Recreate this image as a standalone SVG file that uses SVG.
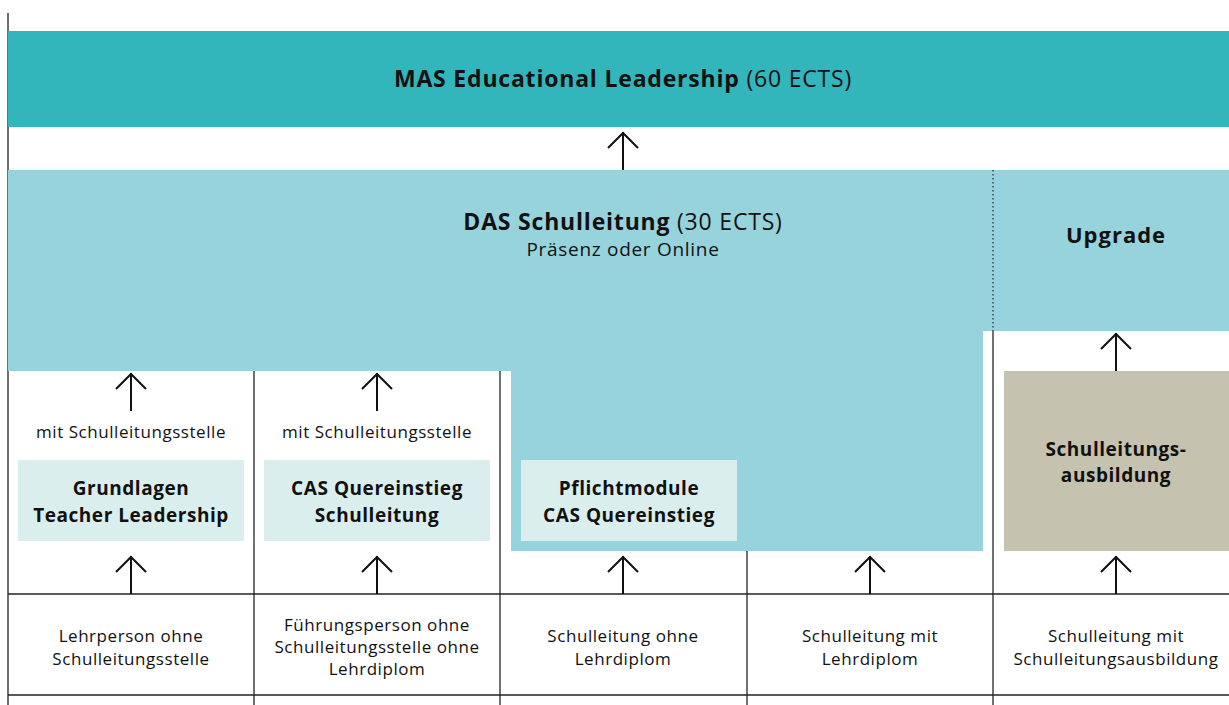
<svg xmlns="http://www.w3.org/2000/svg" width="1229" height="705" viewBox="0 0 1229 705">
<style>
text{font-family:"Open Sans","Noto Sans","DejaVu Sans",sans-serif;fill:#111;text-anchor:middle}
.sm{font-size:17px;letter-spacing:0.55px}
.bx{font-size:19px;font-weight:700;letter-spacing:0.55px}
.ttl{font-size:23px;letter-spacing:0.8px}
.b{font-weight:700}
.ln{stroke:#222;stroke-width:1.3;fill:none}
.arr{stroke:#111;stroke-width:2;fill:none}
</style>
<defs>
<g id="arrow"><path class="arr" d="M0,0 V38 M-15,16 L0,1 L15,16"/></g>
</defs>
<rect width="1229" height="705" fill="#fff"/>
<g id="grid">
<line class="ln" x1="8" y1="13" x2="8" y2="705"/>
<line class="ln" x1="254" y1="371" x2="254" y2="705"/>
<line class="ln" x1="500" y1="371" x2="500" y2="705"/>
<line class="ln" x1="747" y1="551" x2="747" y2="705"/>
<line class="ln" x1="993" y1="331" x2="993" y2="705"/>
<line class="ln" x1="8" y1="594" x2="1229" y2="594"/>
<line class="ln" x1="8" y1="695" x2="1229" y2="695"/>
</g>
<g id="mas">
<rect x="8" y="31" width="1221" height="96" fill="#33b5bc"/>
<text class="ttl" x="623" y="87"><tspan class="b">MAS Educational Leadership</tspan> (60 ECTS)</text>
</g>
<g id="das">
<path d="M8,170 H1229 V331 H983 V551 H511 V371 H8 Z" fill="#97d3dc"/>
<line x1="993" y1="170" x2="993" y2="331" stroke="#333" stroke-width="1.3" stroke-dasharray="1.5,2.5"/>
<text class="ttl" x="623" y="230"><tspan class="b">DAS Schulleitung</tspan> (30 ECTS)</text>
<text x="623" y="256" style="font-size:19px;letter-spacing:0.7px">Präsenz oder Online</text>
</g>
<g id="upgrade">
<text x="1116" y="243" style="font-size:22px;font-weight:700;letter-spacing:1px">Upgrade</text>
</g>
<g id="grundlagen">
<rect x="18" y="460" width="226" height="81" fill="#daeeed"/>
<text class="bx" x="131" y="495">Grundlagen</text>
<text class="bx" x="131" y="522">Teacher Leadership</text>
</g>
<g id="casq">
<rect x="264" y="460" width="226" height="81" fill="#daeeed"/>
<text class="bx" x="377" y="495">CAS Quereinstieg</text>
<text class="bx" x="377" y="522">Schulleitung</text>
</g>
<g id="pflicht">
<rect x="521" y="460" width="216" height="81" fill="#daeeed"/>
<text class="bx" x="629" y="495">Pflichtmodule</text>
<text class="bx" x="629" y="522">CAS Quereinstieg</text>
</g>
<g id="sla">
<rect x="1004" y="371" width="225" height="180" fill="#c5c2b0"/>
<text class="bx" x="1116" y="456">Schulleitungs-</text>
<text class="bx" x="1116" y="482">ausbildung</text>
</g>
<g id="labels">
<text class="sm" x="131" y="438">mit Schulleitungsstelle</text>
<text class="sm" x="377" y="438">mit Schulleitungsstelle</text>
</g>
<g id="rows">
<text class="sm" x="131" y="642">Lehrperson ohne</text>
<text class="sm" x="131" y="665">Schulleitungsstelle</text>
<text class="sm" x="377" y="631">Führungsperson ohne</text>
<text class="sm" x="377" y="653">Schulleitungsstelle ohne</text>
<text class="sm" x="377" y="675">Lehrdiplom</text>
<text class="sm" x="623" y="642">Schulleitung ohne</text>
<text class="sm" x="623" y="665">Lehrdiplom</text>
<text class="sm" x="870" y="642">Schulleitung mit</text>
<text class="sm" x="870" y="665">Lehrdiplom</text>
<text class="sm" x="1116" y="642">Schulleitung mit</text>
<text class="sm" x="1116" y="665">Schulleitungsausbildung</text>
</g>
<g id="connectors">
<use href="#arrow" x="623" y="132"/>
<use href="#arrow" x="131" y="373"/>
<use href="#arrow" x="377" y="373"/>
<use href="#arrow" x="1116" y="333"/>
<use href="#arrow" x="131" y="556"/>
<use href="#arrow" x="377" y="556"/>
<use href="#arrow" x="623" y="556"/>
<use href="#arrow" x="870" y="556"/>
<use href="#arrow" x="1116" y="556"/>
</g>
</svg>
